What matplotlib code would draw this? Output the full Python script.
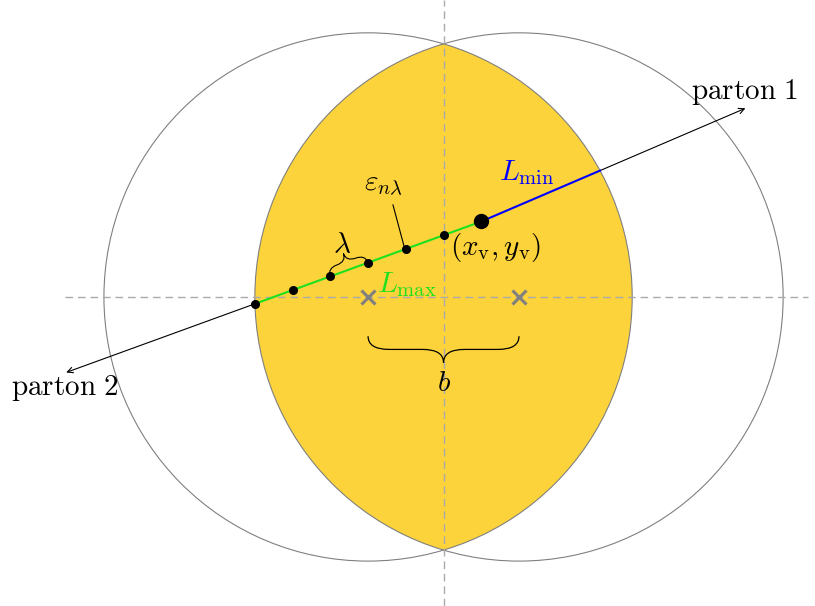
import numpy as np
import matplotlib.pyplot as plt
from matplotlib.path import Path
from matplotlib.patches import PathPatch, Circle, Polygon

plt.rcParams['mathtext.fontset'] = 'cm'

# geometry of the overlap (units: fm-ish, arbitrary)
R = 7.0
b = 4.0
centres = [(-b / 2, 0.0), (b / 2, 0.0)]
vertex = (1.0, 2.0)
parton1_tip = (8.0, 5.0)
parton2_tip = (-10.0, -2.0)
dot_x = [-5, -4, -3, -2, -1, 0]   # sampling points eps_{n lambda}
lam_pair = (-3, -2)               # the two dots spanned by the lambda brace

lens_color = '#fcd33a'
green = '#1ee01e'
blue = '#0000ff'


def line_y(p, q, x):
    return p[1] + (q[1] - p[1]) / (q[0] - p[0]) * (x - p[0])


def ray_circle(p, q, c, r):
    # first hit of ray p->q with circle (c, r), going outward from p
    d = np.array(q) - np.array(p)
    d = d / np.hypot(*d)
    f = np.array(p) - np.array(c)
    bb = np.dot(f, d)
    cc = np.dot(f, f) - r ** 2
    t = -bb + np.sqrt(bb ** 2 - cc)
    return np.array(p) + t * d


def brace(ax, p0, p1, amp, **kw):
    p0 = np.array(p0, float)
    p1 = np.array(p1, float)
    L = np.hypot(*(p1 - p0))
    u = (p1 - p0) / L
    n = np.array([-u[1], u[0]])
    h = amp / 2
    w = min(amp * 0.8, L / 4)
    m = L / 2
    loc = [(0, 0), (0, h), (w, h), (m - w, h), (m, h), (m, amp),
           (m, h), (m + w, h), (L - w, h), (L, h), (L, 0)]
    codes = [Path.MOVETO, Path.CURVE3, Path.CURVE3, Path.LINETO,
             Path.CURVE3, Path.CURVE3, Path.CURVE3, Path.CURVE3,
             Path.LINETO, Path.CURVE3, Path.CURVE3]
    pts = [p0 + a * u + c * n for a, c in loc]
    ax.add_patch(PathPatch(Path(pts, codes), fill=False, **kw))
    return p0 + m * u + amp * n


fig = plt.figure(figsize=(8.15, 6.06), dpi=100)
ax = fig.add_axes([0, 0, 1, 1])
ax.set_xlim(-11.75, 9.84)
ax.set_ylim(-8.19, 7.87)
ax.set_aspect('equal')
ax.axis('off')

# lens = overlap of the two nuclei
yi = np.sqrt(R ** 2 - (b / 2) ** 2)
a0 = np.arctan2(yi, b / 2)
t1 = np.linspace(-a0, a0, 200)
t2 = np.linspace(np.pi - a0, np.pi + a0, 200)
lens = np.vstack([
    np.column_stack([centres[0][0] + R * np.cos(t1), R * np.sin(t1)]),
    np.column_stack([centres[1][0] + R * np.cos(t2), R * np.sin(t2)]),
])
ax.add_patch(Polygon(lens, closed=True, fc=lens_color, ec='none', zorder=1))

for c in centres:
    ax.add_patch(Circle(c, R, fill=False, ec='#808080', lw=0.8, zorder=2))

ax.plot([-10.03, 9.67], [0, 0], color='#aaaaaa', lw=1.0,
        ls=(0, (5.5, 3.5)), zorder=3)
ax.plot([0, 0], [-8.19, 7.87], color='#aaaaaa', lw=1.0,
        ls=(0, (5.5, 3.5)), zorder=3)

ax.plot([c[0] for c in centres], [c[1] for c in centres], ls='none',
        marker='x', ms=10, mew=2.2, color='#808080', zorder=4)

# path of the jet
blue_end = ray_circle(vertex, parton1_tip, centres[0], R)
green_end = ray_circle(vertex, parton2_tip, centres[1], R)

ax.annotate('', xy=parton1_tip, xytext=blue_end,
            arrowprops=dict(arrowstyle='->', lw=0.8, color='black',
                            shrinkA=0, shrinkB=0), zorder=5)
ax.annotate('', xy=parton2_tip, xytext=green_end,
            arrowprops=dict(arrowstyle='->', lw=0.8, color='black',
                            shrinkA=0, shrinkB=0), zorder=5)
ax.plot([vertex[0], blue_end[0]], [vertex[1], blue_end[1]],
        color=blue, lw=1.5, zorder=5)
ax.plot([vertex[0], green_end[0]], [vertex[1], green_end[1]],
        color=green, lw=1.5, zorder=5)

dy = [line_y(vertex, parton2_tip, x) for x in dot_x]
ax.plot(dot_x, dy, ls='none', marker='o', ms=5.5, color='black', zorder=6)
ax.plot(*vertex, marker='o', ms=10, color='black', zorder=6)

# braces
p_a = (lam_pair[0], line_y(vertex, parton2_tip, lam_pair[0]))
p_b = (lam_pair[1], line_y(vertex, parton2_tip, lam_pair[1]))
brace(ax, p_a, p_b, 0.45, lw=0.8, color='black', zorder=6)
brace(ax, (2, -1.04), (-2, -1.04), 0.7, lw=0.9, color='black', zorder=6)

# eps_{n lambda} pointer
ax.plot([-1.34, -1.04], [2.44, 1.32], color='black', lw=0.8, zorder=6)

fs = 21
ax.text(7.99, 5.42, r'$\mathrm{parton\ 1}$', fontsize=fs, ha='center', va='center')
ax.text(-10.03, -2.42, r'$\mathrm{parton\ 2}$', fontsize=fs, ha='center', va='center')
ax.text(2.2, 3.3, r'$L_{\mathrm{min}}$', fontsize=fs, color=blue, ha='center', va='center')
ax.text(-0.98, 0.33, r'$L_{\mathrm{max}}$', fontsize=fs, color=green, ha='center', va='center')
ax.text(1.37, 1.32, r'$(x_{\mathrm{v}},y_{\mathrm{v}})$', fontsize=fs, ha='center', va='center')
ax.text(-1.6, 2.97, r'$\varepsilon_{n\lambda}$', fontsize=fs, ha='center', va='center')
ax.text(-2.7, 1.38, r'$\lambda$', fontsize=fs, ha='center', va='center')
ax.text(0, -2.28, r'$b$', fontsize=fs, ha='center', va='center')

fig.savefig('out.png', dpi=100)
